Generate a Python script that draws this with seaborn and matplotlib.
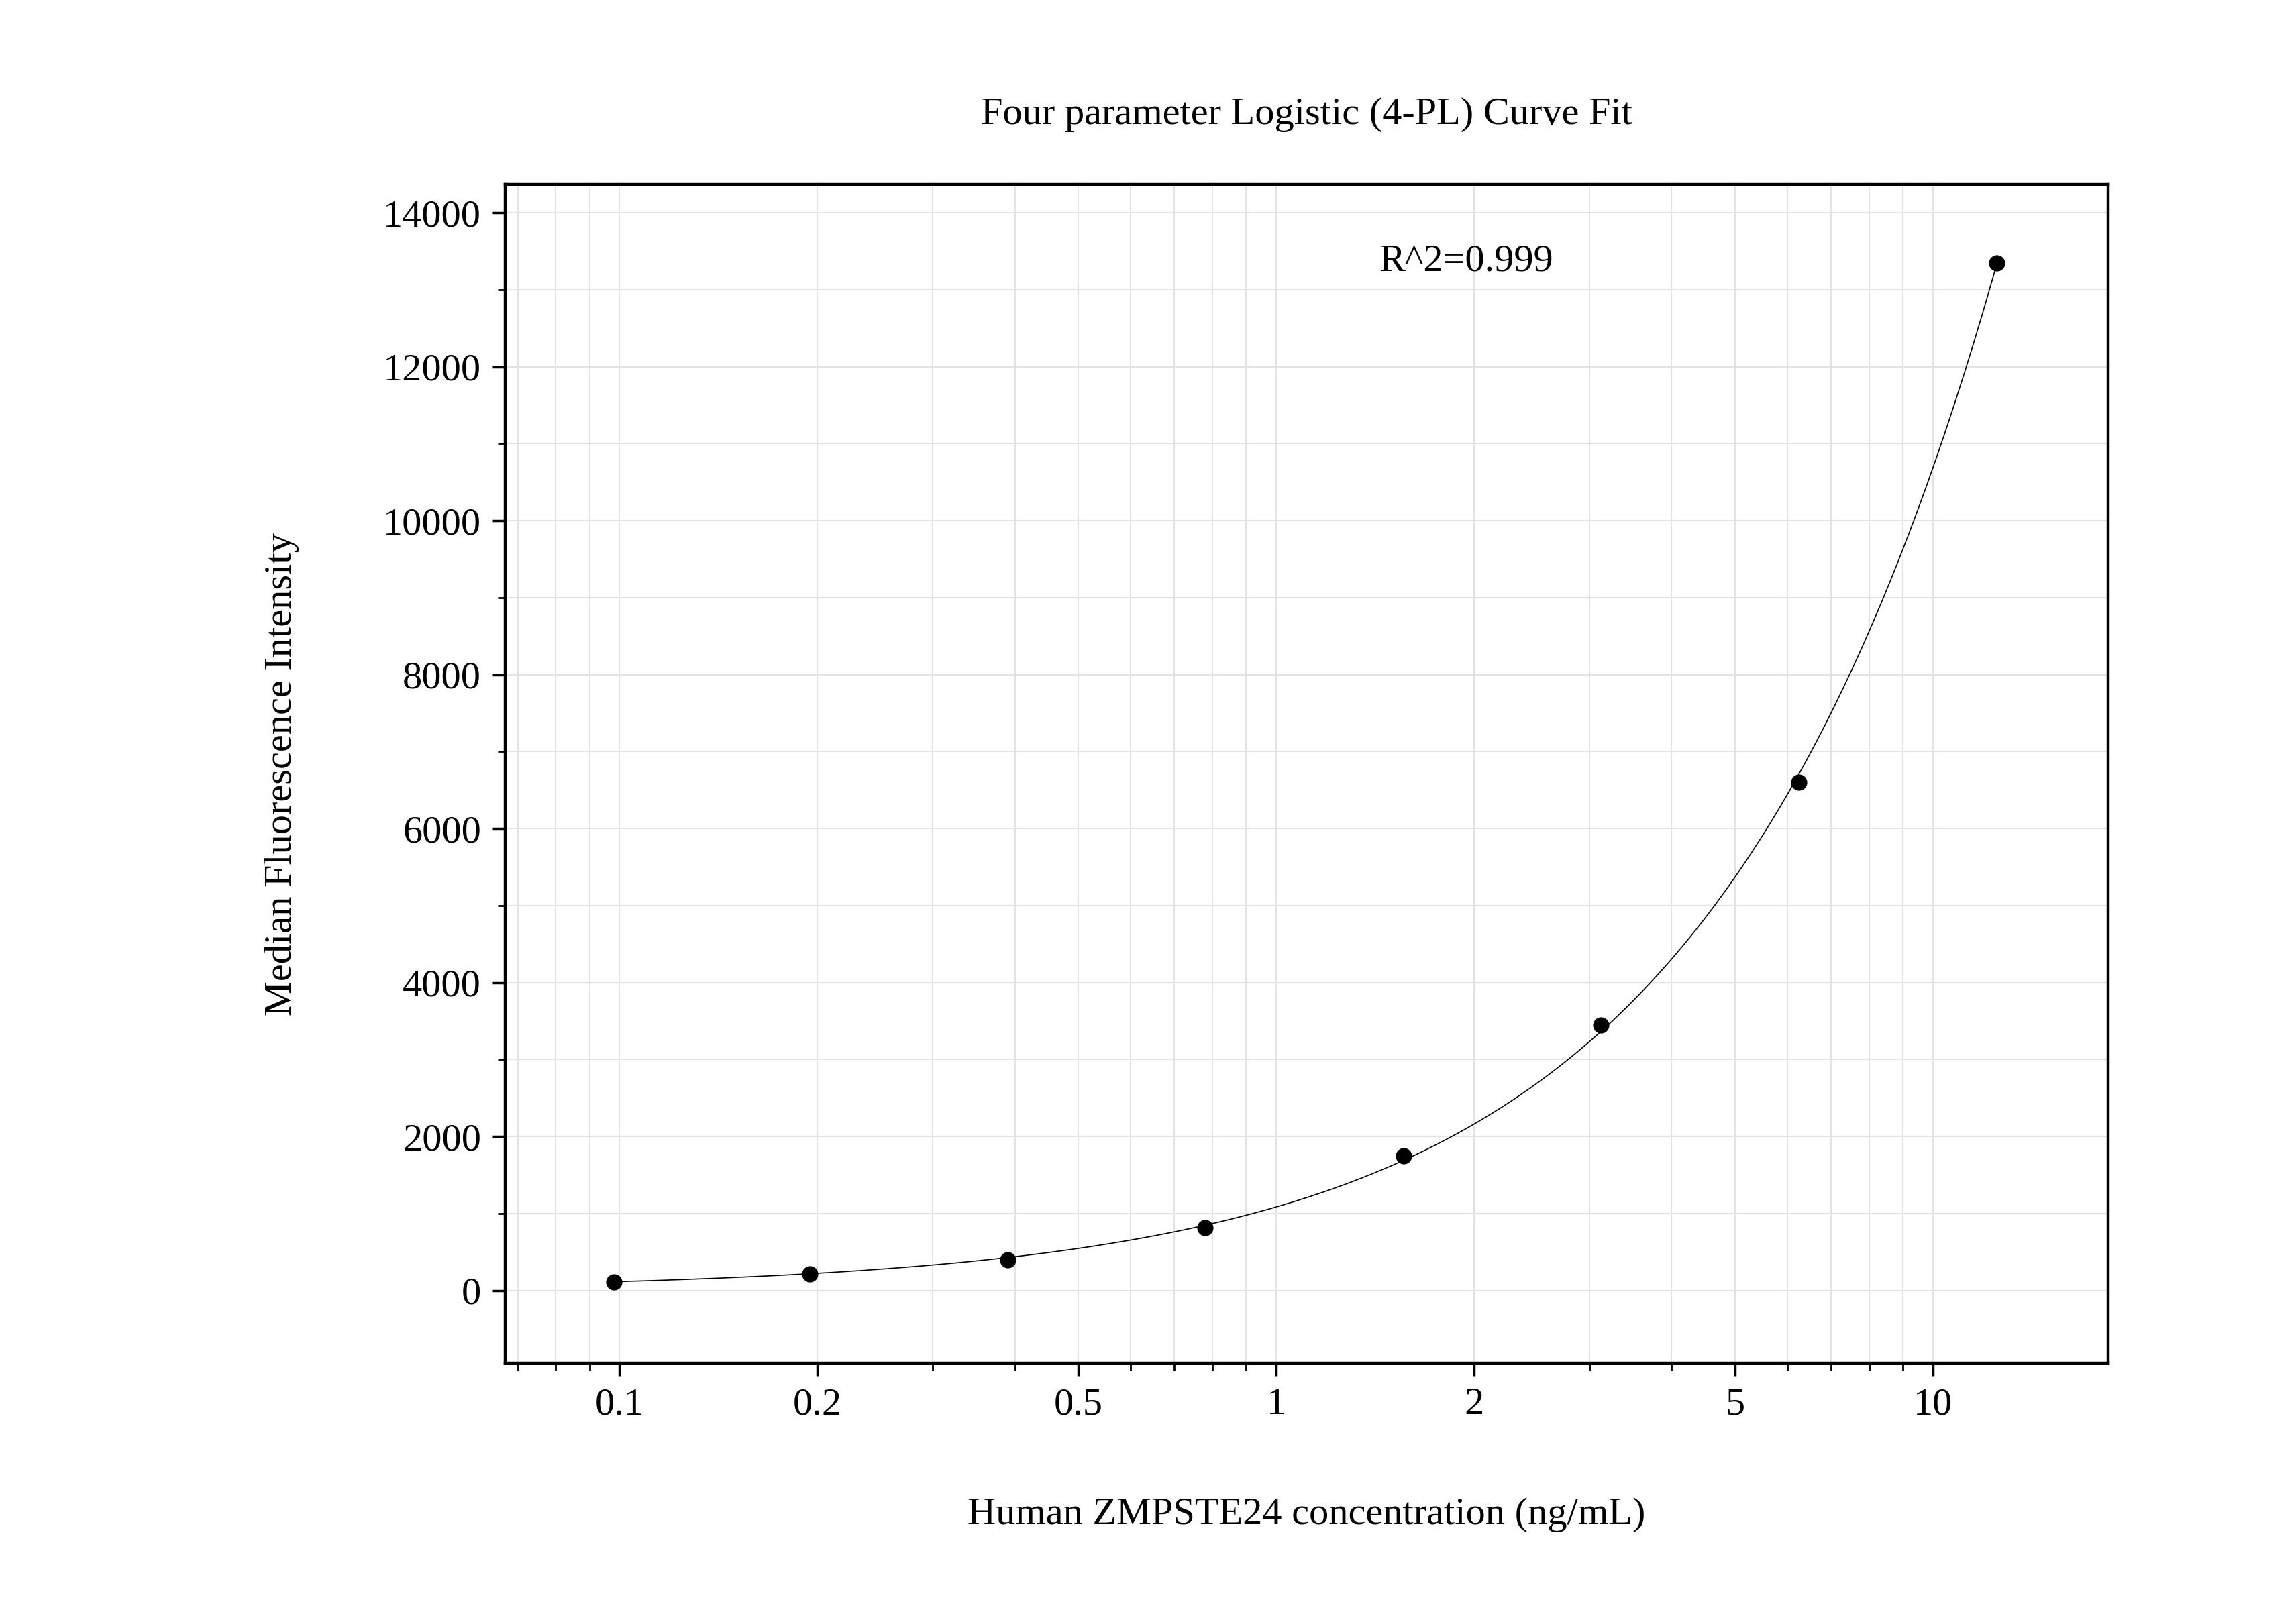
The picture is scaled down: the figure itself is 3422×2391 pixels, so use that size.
import numpy as np
import pandas as pd
import matplotlib
matplotlib.use("Agg")
import matplotlib.pyplot as plt
import seaborn as sns
from matplotlib.ticker import LogLocator, FixedLocator, NullFormatter, MultipleLocator

conc = [0.098, 0.195, 0.39, 0.78, 1.5625, 3.125, 6.25, 12.5]
mfi = [110, 220, 400, 820, 1750, 3450, 6600, 13350]
x_ticks = [0.1, 0.2, 0.5, 1, 2, 5, 10]
x_tick_labels = ["0.1", "0.2", "0.5", "1", "2", "5", "10"]
y_ticks = [0, 2000, 4000, 6000, 8000, 10000, 12000, 14000]

x = np.array(conc); y = np.array(mfi)

# 4PL fit: grid search over B, C; A, D by linear least squares
best = None
for B in np.linspace(0.5, 3.0, 126):
    for C in np.logspace(0, 3, 301):
        g = 1.0 / (1.0 + (x / C) ** B)
        M = np.column_stack([g, 1 - g])
        coef, *_ = np.linalg.lstsq(M, y, rcond=None)
        r = np.sum((M @ coef - y) ** 2)
        if best is None or r < best[0]:
            best = (r, B, C, coef)
_, B, C, (A, D) = best
xf = np.logspace(np.log10(x.min()), np.log10(x.max()), 300)
yf = D + (A - D) / (1 + (xf / C) ** B)

pts = pd.DataFrame({"conc": conc, "mfi": mfi})
fit = pd.DataFrame({"conc": xf, "mfi": yf})

plt.rcParams["font.family"] = "Liberation Serif"
fig = plt.figure(figsize=(34.23, 23.91), dpi=100)
ax = fig.add_axes([0.220, 0.150, 0.698, 0.735])
ax.set_xscale("log")
sns.lineplot(data=fit, x="conc", y="mfi", ax=ax, color="black", linewidth=1.2)
sns.scatterplot(data=pts, x="conc", y="mfi", ax=ax, color="black", s=260, edgecolor="black", zorder=5)
ax.set_xlim(0.067, 18.5)
ax.set_ylim(-946, 14367)
ax.xaxis.set_major_locator(FixedLocator(x_ticks))
ax.set_xticklabels(x_tick_labels)
ax.xaxis.set_minor_locator(LogLocator(base=10, subs=np.arange(1, 10)))
ax.xaxis.set_minor_formatter(NullFormatter())
ax.set_yticks(y_ticks)
ax.yaxis.set_minor_locator(MultipleLocator(1000))
ax.grid(True, which="both", color="#e3e3e3", linewidth=1.5)
ax.set_axisbelow(True)
for s in ax.spines.values():
    s.set_linewidth(3.2)
ax.tick_params(axis="both", which="major", direction="out", length=14, width=2.5, labelsize=42, pad=12)
ax.tick_params(axis="both", which="minor", direction="out", length=8, width=2)
ax.set_xlabel("Human ZMPSTE24 concentration (ng/mL)", fontsize=42, labelpad=80)
ax.set_ylabel("Median Fluorescence Intensity", fontsize=42, labelpad=90)
ax.set_title("Four parameter Logistic (4-PL) Curve Fit", fontsize=42, pad=65)
ax.text(0.545, 0.935, "R^2=0.999", transform=ax.transAxes, fontsize=42, ha="left", va="center")
fig.savefig("out.png", dpi=100)
